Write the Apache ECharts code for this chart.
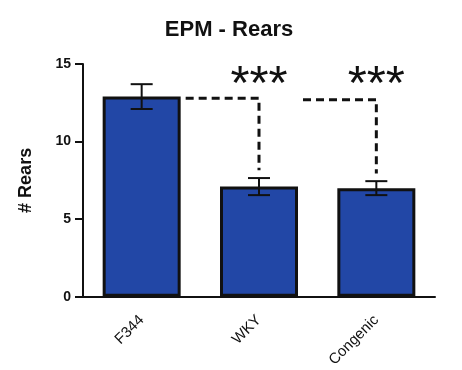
<!DOCTYPE html>
<html>
<head>
<meta charset="utf-8">
<script src="https://cdn.jsdelivr.net/npm/echarts@6/dist/echarts.min.js"></script>
<style>
  html, body { margin: 0; padding: 0; background: #fff; }
  #chart { width: 462px; height: 370px; }
</style>
</head>
<body>
<div id="chart"></div>
<script>
// Rearing counts in the elevated plus maze, mean ± SEM per strain
const categories = ['F344', 'WKY', 'Congenic'];
const meanRears = [12.9, 7.1, 7.0];
const semRears = [0.8, 0.55, 0.45];
const yTicks = [0, 5, 10, 15];

// Significance brackets: from group, to group, bracket height, label
const bracketFrom = [0, 1];
const bracketTo = [1, 2];
const bracketLevel = [12.8, 12.7];
const bracketLabel = ['***', '***'];
const starLevel = [13.6, 13.6];

const FONT = '"Liberation Sans", Arial, sans-serif';
const BAR_WIDTH = 78;

const chart = echarts.init(document.getElementById('chart'), null, { renderer: 'canvas' });

const errorData = categories.map((c, i) => [i, meanRears[i] - semRears[i], meanRears[i] + semRears[i]]);
const bracketData = bracketFrom.map((f, i) => [f, bracketTo[i], bracketLevel[i],
  meanRears[bracketTo[i]] + semRears[bracketTo[i]] + 0.5]);
const starData = bracketTo.map((t, i) => [t, starLevel[i], bracketLabel[i]]);

chart.setOption({
  animation: false,
  title: {
    text: 'EPM - Rears',
    left: 224, top: 14, textAlign: 'center',
    textStyle: { fontFamily: FONT, fontWeight: 'bold', fontSize: 22, color: '#111' }
  },
  grid: { left: 83, right: 27, top: 64, bottom: 73 },
  xAxis: {
    type: 'category',
    data: categories,
    axisLine: { lineStyle: { color: '#111', width: 2 } },
    axisTick: { alignWithLabel: true, length: 6, lineStyle: { color: '#111', width: 2 } },
    axisLabel: { rotate: 45, margin: 21, fontFamily: FONT, fontSize: 15, color: '#111' }
  },
  yAxis: {
    type: 'value',
    min: yTicks[0], max: yTicks[yTicks.length - 1], interval: 5,
    name: '# Rears',
    nameLocation: 'middle',
    nameGap: 48,
    nameTextStyle: { fontFamily: FONT, fontWeight: 'bold', fontSize: 18, color: '#111' },
    axisLine: { show: true, lineStyle: { color: '#111', width: 2 } },
    axisTick: { show: true, length: 8, lineStyle: { color: '#111', width: 2 } },
    axisLabel: { margin: 12, fontFamily: FONT, fontWeight: 'bold', fontSize: 14, color: '#111' },
    splitLine: { show: false }
  },
  series: [
    {
      type: 'bar',
      data: meanRears,
      barWidth: BAR_WIDTH,
      itemStyle: { color: '#2247a6', borderColor: '#111', borderWidth: 3 },
      z: 2
    },
    {
      // SEM whiskers with caps
      type: 'custom',
      data: errorData,
      z: 3,
      renderItem: function (params, api) {
        const x = api.value(0);
        const lo = api.coord([x, api.value(1)]);
        const hi = api.coord([x, api.value(2)]);
        const cap = 11;
        const style = { stroke: '#111', lineWidth: 2 };
        return {
          type: 'group',
          children: [
            { type: 'line', shape: { x1: hi[0], y1: hi[1], x2: lo[0], y2: lo[1] }, style },
            { type: 'line', shape: { x1: hi[0] - cap, y1: hi[1], x2: hi[0] + cap, y2: hi[1] }, style },
            { type: 'line', shape: { x1: lo[0] - cap, y1: lo[1], x2: lo[0] + cap, y2: lo[1] }, style }
          ]
        };
      }
    },
    {
      // dashed comparison brackets
      type: 'custom',
      data: bracketData,
      z: 3,
      renderItem: function (params, api) {
        const from = api.coord([api.value(0), api.value(2)]);
        const to = api.coord([api.value(1), api.value(2)]);
        const end = api.coord([api.value(1), api.value(3)]);
        const startX = from[0] + BAR_WIDTH / 2 + 5;
        return {
          type: 'polyline',
          shape: { points: [[startX, from[1]], [to[0], to[1]], [end[0], end[1]]] },
          style: { stroke: '#111', lineWidth: 3, fill: null, lineDash: [8, 5] }
        };
      }
    },
    {
      // significance stars
      type: 'custom',
      data: starData,
      z: 3,
      renderItem: function (params, api) {
        const p = api.coord([api.value(0), api.value(1)]);
        return {
          type: 'text',
          x: p[0], y: p[1],
          style: {
            text: starData[params.dataIndex][2],
            fontFamily: FONT, fontSize: 49, fill: '#111',
            align: 'center', verticalAlign: 'middle'
          }
        };
      }
    }
  ]
});
</script>
</body>
</html>
